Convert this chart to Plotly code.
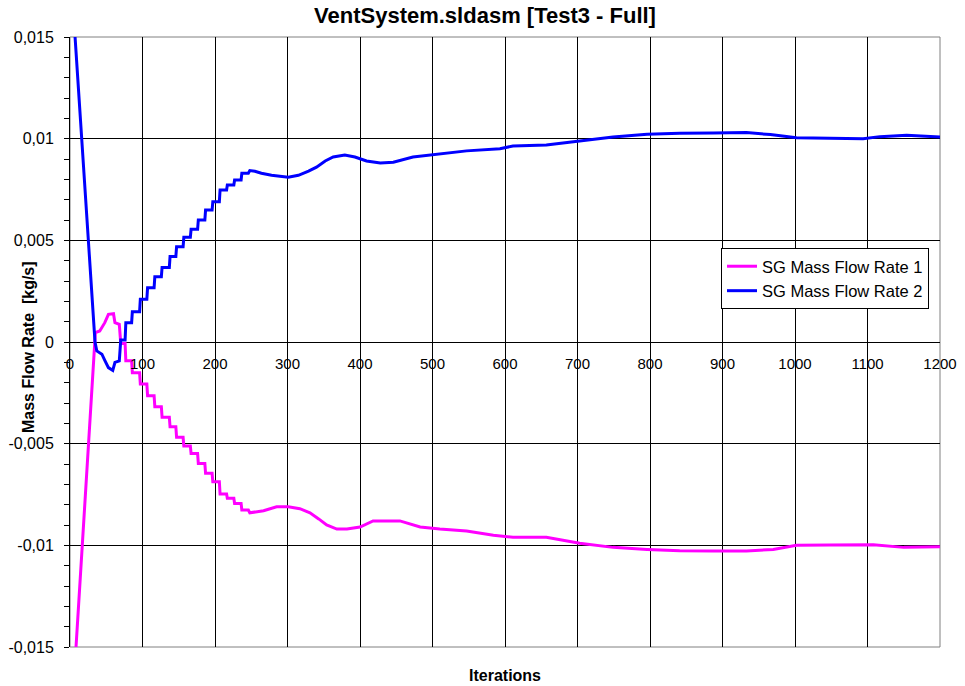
import plotly.graph_objects as go

# ---- data ----
iter_rate1 = [0, 8.3, 34.5, 35, 41, 48, 53, 60, 62, 68, 70, 76, 77, 85, 86, 96, 97, 106, 107,
              116, 117, 126, 127, 137, 138, 146, 147, 156, 157, 166, 167, 176, 177, 186, 187,
              196, 197, 206, 207, 216, 217, 226, 227, 236, 237, 246, 248, 267, 285, 301, 317,
              331, 343, 354, 368, 382, 400, 418, 437, 455, 483, 510, 547, 584, 611, 657, 703,
              749, 796, 841, 887, 933, 970, 1002, 1048, 1108, 1150, 1200]
rate1 = [-0.0198, -0.015, 0.0, 0.00046, 0.00054, 0.00095, 0.00136, 0.00139, 0.00095, 0.00087,
         -0.00007, -0.00007, -0.00092, -0.00092, -0.00151, -0.00151, -0.00207, -0.00207, -0.00264,
         -0.00264, -0.00318, -0.00318, -0.0037, -0.0037, -0.00417, -0.00417, -0.00469, -0.00469,
         -0.00512, -0.00512, -0.00548, -0.00548, -0.00597, -0.00597, -0.00646, -0.00646, -0.00687,
         -0.00687, -0.00748, -0.00748, -0.00769, -0.00769, -0.00794, -0.00794, -0.00826, -0.00826,
         -0.0084, -0.0083, -0.0081, -0.0081, -0.0082, -0.0084, -0.0087, -0.009, -0.0092, -0.0092,
         -0.0091, -0.0088, -0.0088, -0.0088, -0.0091, -0.0092, -0.0093, -0.0095, -0.0096, -0.0096,
         -0.0099, -0.0101, -0.0102, -0.01027, -0.01028, -0.01028, -0.0102, -0.0100, -0.00998,
         -0.00997, -0.0101, -0.01007]

iter_rate2 = [0, 7, 16, 34.5, 37, 44, 48, 53, 59, 62, 68, 70, 76, 77, 85, 86, 96, 97, 106, 107,
              116, 117, 126, 127, 137, 138, 146, 147, 156, 157, 166, 167, 176, 177, 186, 187,
              196, 197, 206, 207, 216, 217, 226, 227, 236, 237, 246, 248, 255, 264, 278, 301,
              315, 329, 340, 352, 363, 379, 393, 409, 428, 446, 473, 501, 547, 593, 611, 657,
              703, 749, 796, 841, 887, 933, 966, 1002, 1048, 1094, 1117, 1154, 1200]
rate2 = [0.0188, 0.015, 0.0101, 0.0, -0.00044, -0.0006, -0.0009, -0.00126, -0.0014, -0.001,
         -0.00093, 0.0001, 0.0001, 0.00095, 0.00095, 0.00149, 0.00149, 0.0021, 0.0021, 0.00267,
         0.00267, 0.00321, 0.00321, 0.00367, 0.00367, 0.0042, 0.0042, 0.00469, 0.00469, 0.00515,
         0.00515, 0.00554, 0.00554, 0.006, 0.006, 0.00649, 0.00649, 0.0069, 0.0069, 0.00748,
         0.00748, 0.00772, 0.00772, 0.00797, 0.00797, 0.0083, 0.0083, 0.00843, 0.0084, 0.0083,
         0.0082, 0.0081, 0.0082, 0.0084, 0.0086, 0.0089, 0.0091, 0.0092, 0.0091, 0.0089, 0.0088,
         0.00884, 0.0091, 0.0092, 0.0094, 0.0095, 0.00964, 0.00969, 0.00989, 0.01008, 0.01022,
         0.01027, 0.01028, 0.0103, 0.0102, 0.01005, 0.01002, 0.0100, 0.0101, 0.01017, 0.01008]

series_names = ["SG Mass Flow Rate 1", "SG Mass Flow Rate 2"]
y_tickvals = [-0.015, -0.01, -0.005, 0, 0.005, 0.01, 0.015]
y_ticktext = ["-0,015", "-0,01", "-0,005", "0", "0,005", "0,01", "0,015"]
x_tickvals = [0, 100, 200, 300, 400, 500, 600, 700, 800, 900, 1000, 1100, 1200]

FONT = "Arial, Liberation Sans, sans-serif"
W, H = 965, 686
ML, MR, MT, MB = 70, 25, 37, 39
PH = H - MT - MB

fig = go.Figure()
fig.add_trace(go.Scatter(x=iter_rate1, y=rate1, mode="lines", name=series_names[0],
                         line=dict(color="#FF00FF", width=3)))
fig.add_trace(go.Scatter(x=iter_rate2, y=rate2, mode="lines", name=series_names[1],
                         line=dict(color="#0000FF", width=3)))

fig.update_layout(
    width=W, height=H,
    margin=dict(l=ML, r=MR, t=MT, b=MB, autoexpand=False),
    paper_bgcolor="white", plot_bgcolor="white",
    font=dict(family=FONT, color="black", size=15),
    title=dict(text="<b>VentSystem.sldasm [Test3 - Full]</b>", x=485 / W, xanchor="center",
               y=1 - 15 / H, yanchor="middle", font=dict(size=22, family=FONT)),
    showlegend=True,
    legend=dict(x=(721 - ML) / (W - ML - MR), y=(H - MB - 248) / PH, xanchor="left", yanchor="top",
                bordercolor="black", borderwidth=1, bgcolor="white",
                font=dict(size=16.5, family=FONT), tracegroupgap=0),
    xaxis=dict(range=[0, 1200], tickvals=x_tickvals, showgrid=True, gridcolor="black",
               gridwidth=1, zeroline=False, showline=False, ticks="",
               anchor="free", position=0.5, tickfont=dict(size=15),
               ticklabelstandoff=11, automargin=False),
    yaxis=dict(range=[-0.015, 0.015], tickvals=y_tickvals, ticktext=y_ticktext,
               showgrid=True, gridcolor="black", gridwidth=1, zeroline=False,
               showline=True, linecolor="black", linewidth=1,
               ticks="outside", ticklen=5, tickcolor="black",
               minor=dict(dtick=0.001, tick0=0, ticks="outside", ticklen=5, tickcolor="black",
                          showgrid=False),
               tickfont=dict(size=16), ticklabelstandoff=7, automargin=False),
    annotations=[
        dict(text="<b>Iterations</b>", x=505, xref="paper", y=675, yref="paper",
             showarrow=False, font=dict(size=16)),
        dict(text="<b>Mass Flow Rate  [kg/s]</b>", x=28, xref="paper", y=347, yref="paper",
             showarrow=False, textangle=-90, font=dict(size=16)),
    ],
    shapes=[dict(type="rect", xref="paper", yref="paper", x0=0, x1=1, y0=0, y1=1,
                 line=dict(color="#808080", width=1), layer="below")],
)
# convert annotation pixel positions to paper coordinates
for a in fig.layout.annotations:
    a.x = (a.x - ML) / (W - ML - MR)
    a.y = (H - MB - a.y) / PH
    a.xanchor = "center"
    a.yanchor = "middle"

fig.write_html("out.html", config={"displayModeBar": False},
               post_script="document.body.style.margin='0';document.body.style.overflow='hidden';")
